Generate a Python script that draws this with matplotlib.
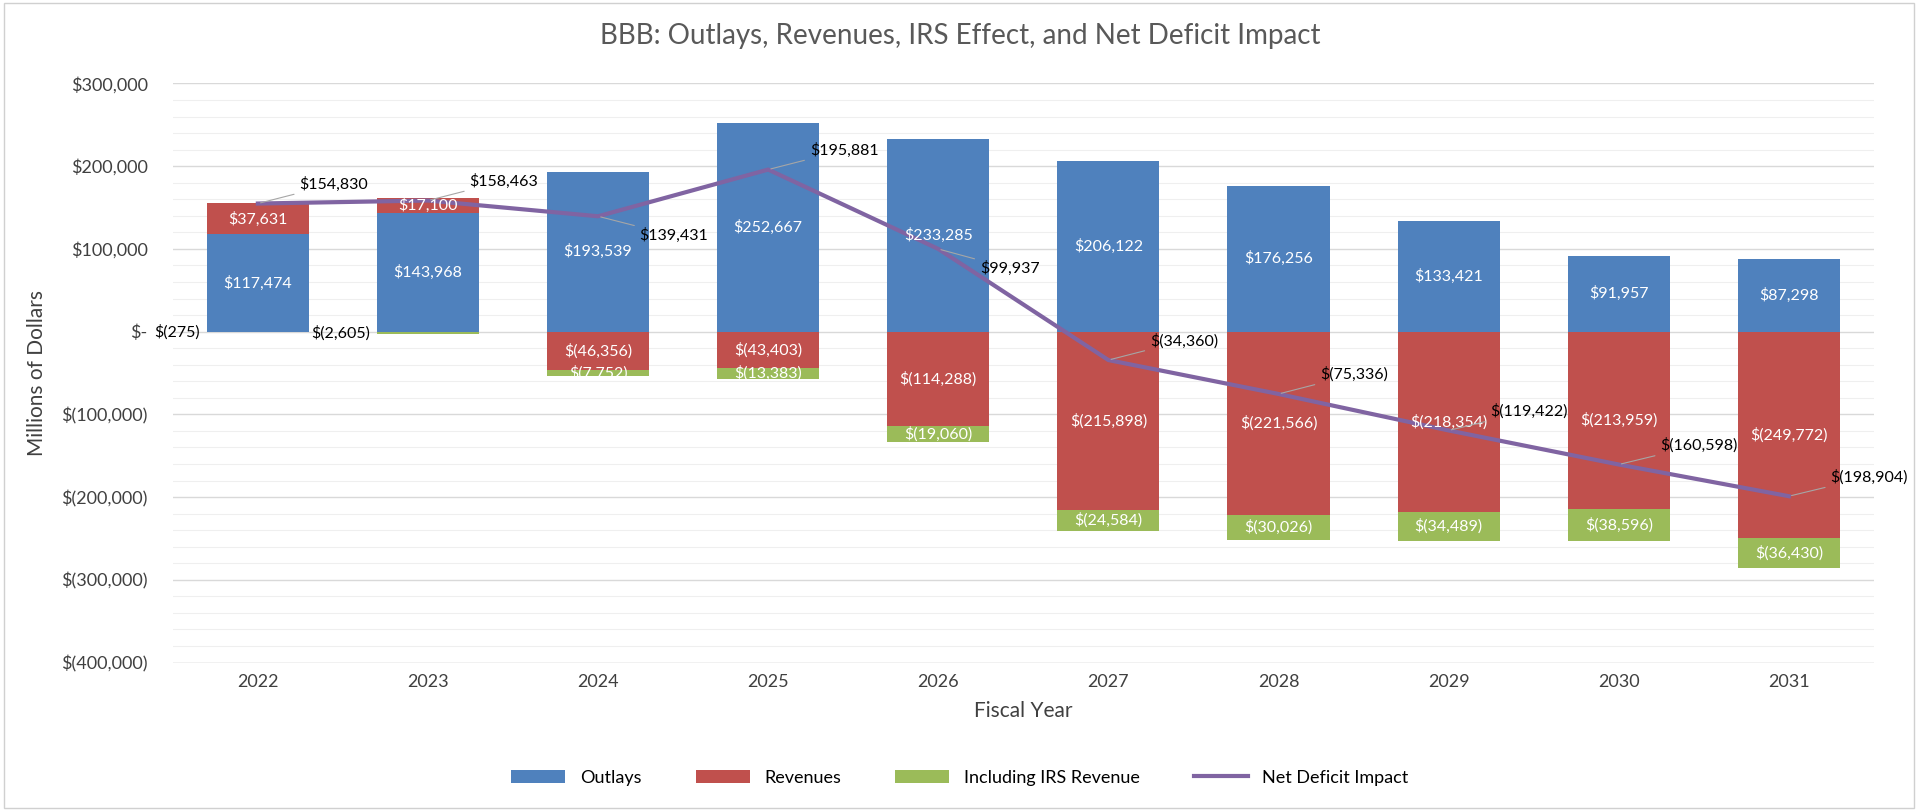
import matplotlib
matplotlib.use("Agg")
import matplotlib.pyplot as plt
import numpy as np
from matplotlib.ticker import FuncFormatter, MultipleLocator

years = ["2022","2023","2024","2025","2026","2027","2028","2029","2030","2031"]
outlays = [117474,143968,193539,252667,233285,206122,176256,133421,91957,87298]
revenues = [37631,17100,-46356,-43403,-114288,-215898,-221566,-218354,-213959,-249772]
irs = [-275,-2605,-7752,-13383,-19060,-24584,-30026,-34489,-38596,-36430]
net = [154830,158463,139431,195881,99937,-34360,-75336,-119422,-160598,-198904]
label_up = [True,True,False,True,False,True,True,True,True,True]

plt.rcParams['font.family'] = ['Lato', 'DejaVu Sans']
BLUE, RED, GREEN, PURPLE = "#4f81bd", "#c0504d", "#9bbb59", "#8064a2"

def money(v):
    if v == 0:
        return "$-"
    if v < 0:
        return f"$({-v:,.0f})"
    return f"${v:,.0f}"

fig = plt.figure(figsize=(19.2, 8.1), dpi=100)
ax = fig.add_axes([0.09, 0.182, 0.886, 0.715])
fig.patches.append(plt.Rectangle((0.002, 0.003), 0.995, 0.993, transform=fig.transFigure,
                                 fill=False, edgecolor="#d0d0d0", lw=1))

x = np.arange(len(years))
w = 0.6
pos_base = np.zeros(len(x)); neg_base = np.zeros(len(x))
handles = []
for vals, col, name in [(outlays, BLUE, "Outlays"), (revenues, RED, "Revenues"), (irs, GREEN, "Including IRS Revenue")]:
    vals = np.array(vals, float)
    bottoms = np.where(vals >= 0, pos_base, neg_base)
    bars = ax.bar(x, vals, w, bottom=bottoms, color=col, label=name, zorder=2)
    handles.append(bars)
    for i, v in enumerate(vals):
        cy = bottoms[i] + v / 2
        if abs(v) < 5000:
            ax.text(x[i] - 0.34, cy, money(v), ha="right", va="center", fontsize=11.5, color="black", zorder=4)
        else:
            ax.text(x[i], cy, money(v), ha="center", va="center", fontsize=11.5, color="white", zorder=4)
    pos_base = pos_base + np.where(vals >= 0, vals, 0)
    neg_base = neg_base + np.where(vals < 0, vals, 0)

line, = ax.plot(x, net, color=PURPLE, lw=3, label="Net Deficit Impact", zorder=3)
handles.append(line)
for i, v in enumerate(net):
    dy = 14 if label_up[i] else -14
    ax.annotate(money(v), (x[i], v), xytext=(30, dy), textcoords="offset points",
                ha="left", va="center", fontsize=11.5, zorder=5,
                arrowprops=dict(arrowstyle="-", color="#a6a6a6", lw=0.8))

ax.set_ylim(-400000, 300000)
ax.set_xlim(-0.5, len(x) - 0.5)
ax.yaxis.set_major_locator(MultipleLocator(100000))
ax.yaxis.set_minor_locator(MultipleLocator(20000))
ax.yaxis.set_major_formatter(FuncFormatter(lambda v, p: money(v)))
ax.grid(axis="y", which="major", color="#d9d9d9", lw=1, zorder=0)
ax.grid(axis="y", which="minor", color="#efefef", lw=0.8, zorder=0)
ax.set_axisbelow(True)
ax.set_xticks(x, years)
ax.tick_params(axis="both", which="both", length=0, labelsize=13, colors="#404040", pad=8)
ax.tick_params(axis="y", pad=18)
for s in ax.spines.values():
    s.set_visible(False)
ax.axhline(-400000, color="#d9d9d9", lw=1)
ax.set_xlabel("Fiscal Year", fontsize=15, color="#404040", labelpad=8)
ax.set_ylabel("Millions of Dollars", fontsize=15, color="#404040", labelpad=10)
fig.text(0.5, 0.955, "BBB: Outlays, Revenues, IRS Effect, and Net Deficit Impact",
         ha="center", va="center", fontsize=20, color="#595959")
fig.legend(handles=handles, loc="lower center", ncol=4, frameon=False, fontsize=13, bbox_to_anchor=(0.5, 0.01),
           handlelength=3, columnspacing=3)
fig.savefig("out.png", dpi=100)
